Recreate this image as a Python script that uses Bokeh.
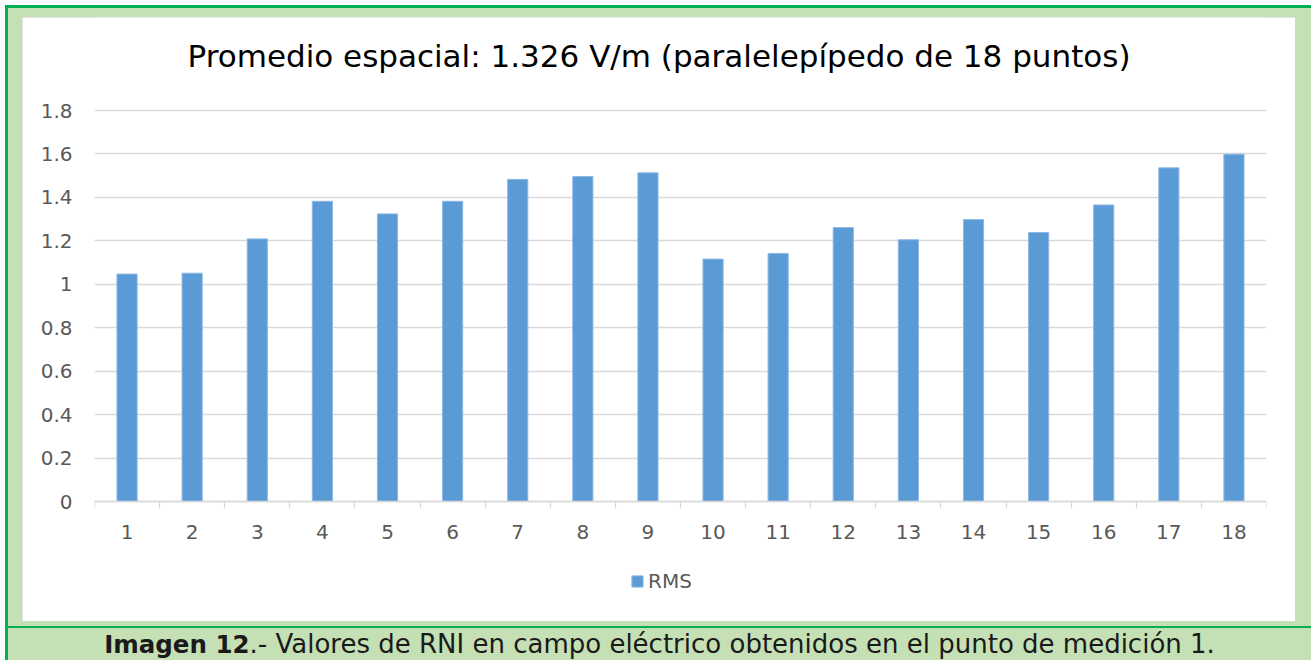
from bokeh.plotting import figure
from bokeh.models import (Range1d, FixedTicker, NumeralTickFormatter, Label, Div, Legend, LegendItem)
from bokeh.layouts import column
from bokeh.embed import file_html
from bokeh.resources import INLINE

# ---- data ----
points = [str(i) for i in range(1, 19)]
point_pos = list(range(1, 19))
rms = [1.047, 1.051, 1.209, 1.382, 1.324, 1.382, 1.483, 1.496, 1.513,
       1.116, 1.142, 1.261, 1.205, 1.298, 1.238, 1.365, 1.536, 1.599]
y_ticks = [0, 0.2, 0.4, 0.6, 0.8, 1.0, 1.2, 1.4, 1.6, 1.8]
series_name = "RMS"
title_text = "Promedio espacial: 1.326 V/m (paralelepípedo de 18 puntos)"
caption_bold = "Imagen 12"
caption_rest = ".- Valores de RNI en campo eléctrico obtenidos en el punto de medición 1."

FONT = "DejaVu Sans"
GRAY = "#595959"
GRID = "#D9D9D9"
LIGHT_GREEN = "#C5E0B4"
GREEN = "#00B050"

# layout of the white chart area (pixels)
AREA_W, AREA_H = 1273, 604
PLOT_TOP, PLOT_H = 93, 391          # pixel span of 0..1.8 inside the area
Y_MAX = 1.8
px_per_unit = PLOT_H / Y_MAX
y_end = Y_MAX + PLOT_TOP / px_per_unit
y_start = -(AREA_H - PLOT_TOP - PLOT_H) / px_per_unit

p = figure(width=AREA_W, height=AREA_H, output_backend="svg", toolbar_location=None,
           title=None,
           x_range=Range1d(0.5, 18.5), y_range=Range1d(y_start, y_end),
           min_border_left=72, min_border_right=29, min_border_top=0, min_border_bottom=0,
           margin=(9, 16, 5, 14),
           styles={"background-color": "white",
                   "outline": "1px solid #D9D9D9", "outline-offset": "-1px"})
p.border_fill_color = "white"
p.background_fill_color = "white"
p.outline_line_color = None

r = p.vbar(x=point_pos, top=rms, width=0.31, fill_color="#5B9BD5", line_color="#8DB9E4",
           line_width=1)

# y axis
p.yaxis.ticker = FixedTicker(ticks=y_ticks)
p.yaxis.formatter = NumeralTickFormatter(format="0.[0]")
p.yaxis.axis_line_color = None
p.yaxis.major_tick_line_color = None
p.yaxis.major_tick_out = 0
p.yaxis.major_tick_in = 0
p.yaxis.minor_tick_line_color = None
p.yaxis.minor_tick_out = 0
p.yaxis.major_label_text_font = FONT
p.yaxis.major_label_text_font_size = "20px"
p.yaxis.major_label_text_color = GRAY
p.yaxis.major_label_standoff = 22

# x axis, pinned at value 0 inside the frame
p.xaxis.fixed_location = 0
p.xaxis.ticker = FixedTicker(ticks=point_pos, minor_ticks=[i + 0.5 for i in range(0, 19)])
p.xaxis.major_label_overrides = {i: s for i, s in zip(point_pos, points)}
p.xaxis.axis_line_color = GRID
p.xaxis.axis_line_width = 1.3
p.xaxis.major_tick_line_color = None
p.xaxis.major_tick_out = 0
p.xaxis.major_tick_in = 0
p.xaxis.minor_tick_line_color = GRID
p.xaxis.minor_tick_line_width = 1.3
p.xaxis.minor_tick_out = 7
p.xaxis.minor_tick_in = 0
p.xaxis.major_label_text_font = FONT
p.xaxis.major_label_text_font_size = "20px"
p.xaxis.major_label_text_color = GRAY
p.xaxis.major_label_standoff = 16

p.xgrid.grid_line_color = None
p.ygrid.ticker = FixedTicker(ticks=y_ticks)
p.ygrid.grid_line_color = GRID
p.ygrid.grid_line_width = 1.3

# legend inside the (extended) frame
lg = Legend(items=[LegendItem(label=series_name, renderers=[r])], location=(536, 28),
            orientation="horizontal", border_line_color=None, background_fill_alpha=0,
            label_text_font=FONT, label_text_font_size="20px", label_text_color=GRAY,
            glyph_width=14, glyph_height=14, label_standoff=4, padding=0, margin=0, spacing=0)
p.add_layout(lg, "center")

# title
p.add_layout(Label(x=564.5, y=565.5, x_units="screen", y_units="screen", text=title_text,
                   text_font=FONT, text_font_size="31px", text_color="black",
                   text_align="center", text_baseline="alphabetic"))

# ---- separator line ----
sep = Div(text="", width=1303, height=2, margin=0, styles={"background-color": GREEN})

# ---- caption strip ----
cap_html = ('<span style="font-weight:bold;font-size:24.5px">' + caption_bold + '</span>'
            + caption_rest)
cap = Div(text=cap_html, width=1303, height=32, margin=0,
          styles={"background-color": LIGHT_GREEN, "font-family": FONT, "font-size": "26px",
                  "line-height": "32px", "color": "#1a1a1a", "text-align": "center",
                  "white-space": "nowrap", "overflow": "hidden"})

inner = column(p, sep, cap, spacing=0, margin=(3, 0, 0, 3),
               styles={"background-color": LIGHT_GREEN})
outer = column(inner, spacing=0, margin=(5, 0, 0, 5),
               styles={"background-color": GREEN})

open("out.html", "w").write(file_html(outer, INLINE))
